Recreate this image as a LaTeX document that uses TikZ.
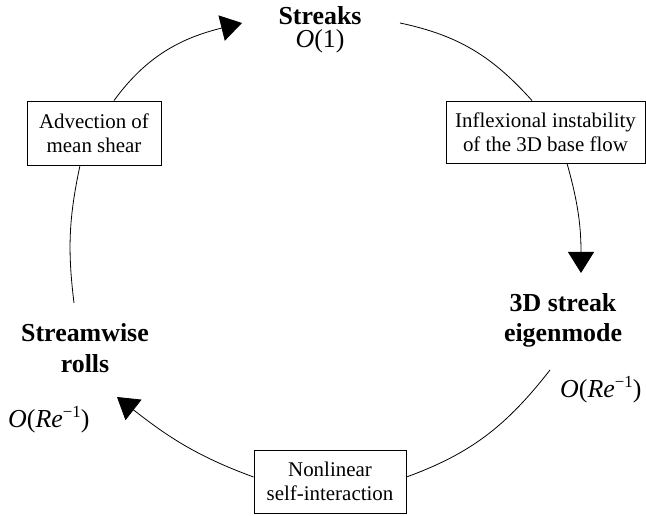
\documentclass[tikz,border=0pt]{standalone}
\usepackage{fontspec}
\setmainfont{Liberation Serif}
\usetikzlibrary{arrows.meta}

% order-of-magnitude label O(Re^{-1})
\newcommand\ordRe{\textit{O}(\textit{Re}\raisebox{10bp}{\fontsize{17}{17}\selectfont −1})}

\tikzset{
  lbl/.style={font=\fontsize{26}{31}\selectfont\bfseries, inner sep=0},
  ord/.style={font=\fontsize{26}{31}\selectfont, inner sep=0},
  procbox/.style={draw, line width=0.9bp, align=center, inner sep=0,
                  font=\fontsize{21}{24.5}\selectfont},
  conn/.style={line width=0.8bp},
  headed/.style={-{Triangle[length=21bp,width=26bp]}}
}

\begin{document}
\begin{tikzpicture}[x=1bp,y=1bp]
\useasboundingbox (0,0) rectangle (646,516);

% states of the cycle
\node[lbl, align=center, anchor=north] (streaks) at (320,510)
  {Streaks\\[-8bp]{\mdseries\textit{O}(1)}};

\node[lbl, anchor=base] (eigA) at (563,204) {3D streak};
\node[lbl, anchor=base] (eigB) at (563,174) {eigenmode};
\node[ord, anchor=base west] (eigord) at (560,118) {\ordRe};

\node[lbl, anchor=base] (rollsA) at (85,174) {Streamwise};
\node[lbl, anchor=base] (rollsB) at (85,143) {rolls};
\node[ord, anchor=base west] (rollsord) at (8,88) {\ordRe};

% processes
\node[procbox, minimum width=134bp, minimum height=64bp] (adv) at (94,383)
  {Advection of\\mean shear};
\node[procbox, minimum width=199bp, minimum height=62bp] (infl) at (545.5,384)
  {Inflexional instability\\of the 3D base flow};
\node[procbox, minimum width=152bp, minimum height=63bp] (nonlin) at (330,34.5)
  {Nonlinear\\self-interaction};

% free ends of the arcs next to the state labels
\coordinate (tipStreaks) at (242,493);
\coordinate (fromStreaks) at (400,493);
\coordinate (tipEig) at (581,243);
\coordinate (fromEig) at (550,146);
\coordinate (tipRolls) at (117,119);
\coordinate (fromRolls) at (74,213);

% the self-sustaining cycle
\draw[conn, headed] ([xshift=20bp]adv.north) to[out=54, in=194] (tipStreaks);
\draw[conn] (fromStreaks) to[out=-12, in=132] ([xshift=-13.5bp]infl.north);
\draw[conn, headed] ([xshift=21.5bp]infl.south) to[out=-74, in=90] (tipEig);
\draw[conn] (fromEig) to[out=232, in=20] ([yshift=4.5bp]nonlin.east);
\draw[conn, headed] ([yshift=4.5bp]nonlin.west) to[out=160, in=-38] (tipRolls);
\draw[conn] (fromRolls) to[out=97, in=258] ([xshift=-14bp]adv.south);
\end{tikzpicture}
\end{document}
